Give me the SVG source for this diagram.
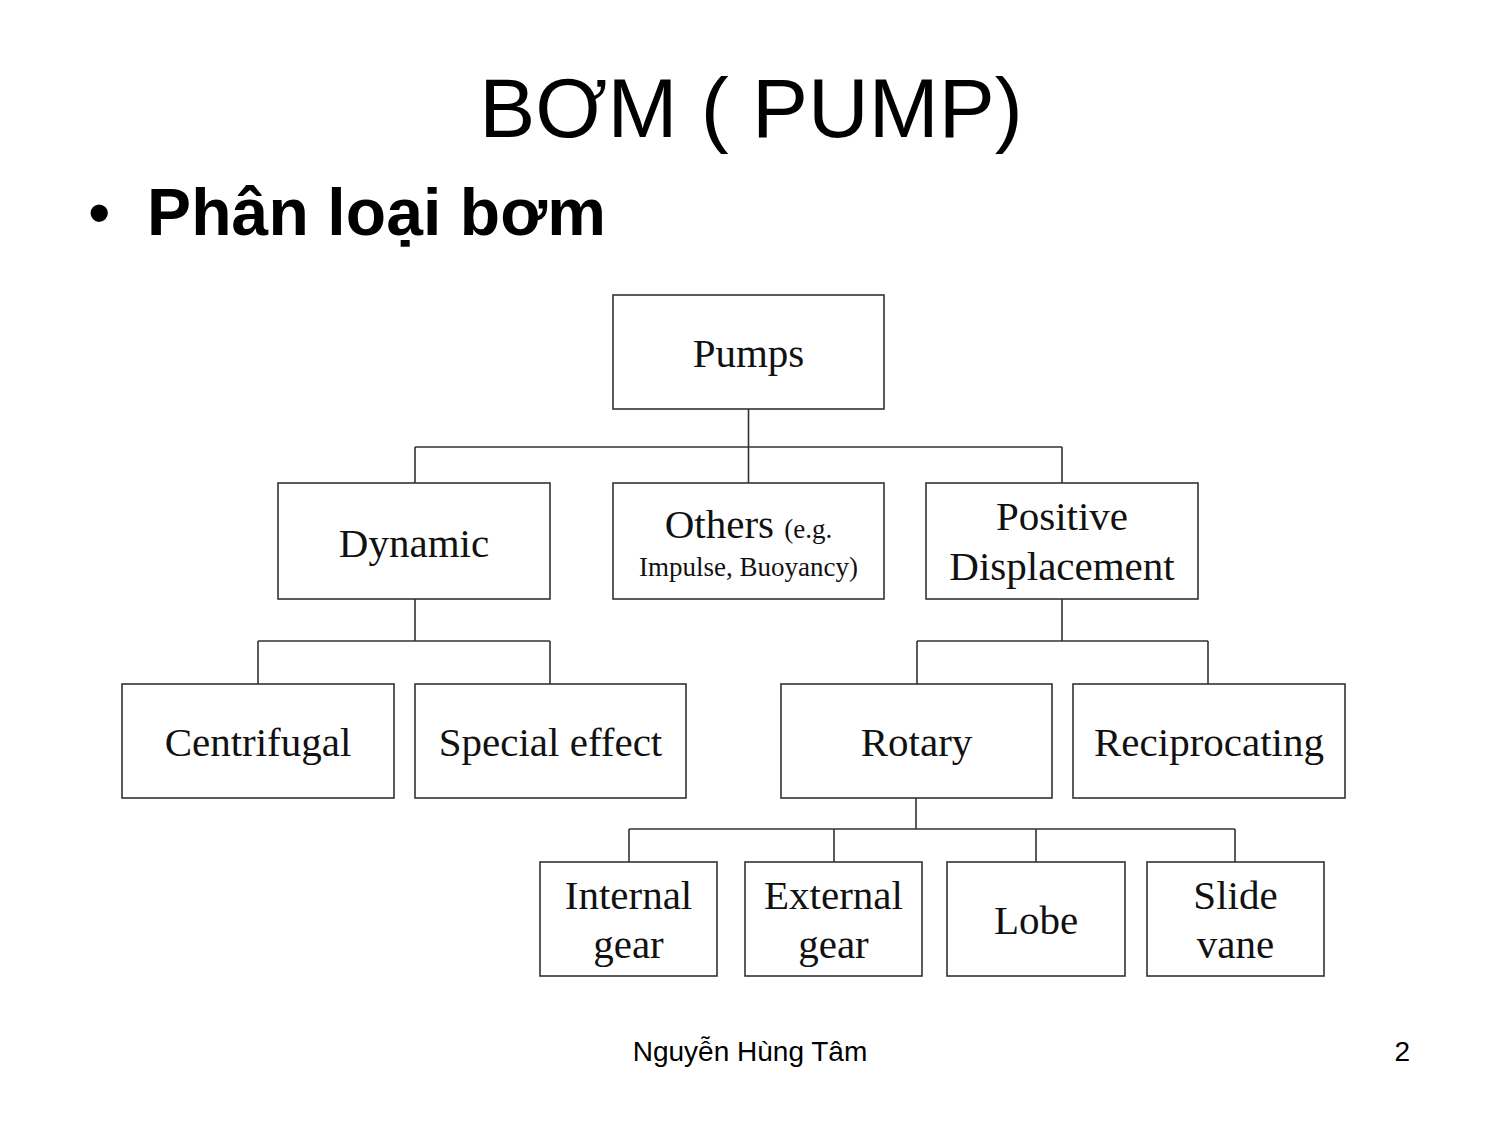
<svg xmlns="http://www.w3.org/2000/svg" width="1499" height="1124" viewBox="0 0 1499 1124">
<style>
.box{fill:#fff;stroke:#333;stroke-width:1.6}
.lbl{font-family:"Liberation Serif","Times New Roman",serif;font-size:41px;fill:#111;text-anchor:middle}
.sm{font-size:27px}
.conn{fill:none;stroke:#333;stroke-width:1.6}
.ar{font-family:"Liberation Sans",Arial,sans-serif;fill:#000}
</style>
<rect width="1499" height="1124" fill="#fff"/>
<text class="ar" x="751" y="137" font-size="84" text-anchor="middle">BƠM ( PUMP)</text>
<text class="ar" x="88" y="235" font-size="64">•</text>
<text class="ar" x="147" y="235" font-size="66" font-weight="bold" textLength="459">Phân loại bơm</text>
<g id="connectors">
<path class="conn" d="M748.5 409V483M415 447H1062M415 447V483M1062 447V483"/>
<path class="conn" d="M415 599V641M258 641H550M258 641V684M550 641V684"/>
<path class="conn" d="M1062 599V641M917 641H1208M917 641V684M1208 641V684"/>
<path class="conn" d="M916 798V829M629 829H1235M629 829V862M834 829V862M1036 829V862M1235 829V862"/>
</g>
<g id="pumps"><rect class="box" x="613" y="295" width="271" height="114"/><text class="lbl" x="748.5" y="367">Pumps</text></g>
<g id="dynamic"><rect class="box" x="278" y="483" width="272" height="116"/><text class="lbl" x="414" y="557">Dynamic</text></g>
<g id="others"><rect class="box" x="613" y="483" width="271" height="116"/><text class="lbl" x="748.5" y="538">Others <tspan class="sm">(e.g.</tspan></text><text class="lbl sm" x="748.5" y="576">Impulse, Buoyancy)</text></g>
<g id="positive"><rect class="box" x="926" y="483" width="272" height="116"/><text class="lbl" x="1062" y="530">Positive</text><text class="lbl" x="1062" y="580">Displacement</text></g>
<g id="centrifugal"><rect class="box" x="122" y="684" width="272" height="114"/><text class="lbl" x="258" y="756">Centrifugal</text></g>
<g id="special"><rect class="box" x="415" y="684" width="271" height="114"/><text class="lbl" x="550.5" y="756">Special effect</text></g>
<g id="rotary"><rect class="box" x="781" y="684" width="271" height="114"/><text class="lbl" x="916.5" y="756">Rotary</text></g>
<g id="reciprocating"><rect class="box" x="1073" y="684" width="272" height="114"/><text class="lbl" x="1209" y="756">Reciprocating</text></g>
<g id="internal"><rect class="box" x="540" y="862" width="177" height="114"/><text class="lbl" x="628.5" y="909">Internal</text><text class="lbl" x="628.5" y="958">gear</text></g>
<g id="external"><rect class="box" x="745" y="862" width="177" height="114"/><text class="lbl" x="833.5" y="909">External</text><text class="lbl" x="833.5" y="958">gear</text></g>
<g id="lobe"><rect class="box" x="947" y="862" width="178" height="114"/><text class="lbl" x="1036" y="934">Lobe</text></g>
<g id="slide"><rect class="box" x="1147" y="862" width="177" height="114"/><text class="lbl" x="1235.5" y="909">Slide</text><text class="lbl" x="1235.5" y="958">vane</text></g>
<text class="ar" x="750" y="1061" font-size="28" text-anchor="middle">Nguyễn Hùng Tâm</text>
<text class="ar" x="1410" y="1061" font-size="28" text-anchor="end">2</text>
</svg>
